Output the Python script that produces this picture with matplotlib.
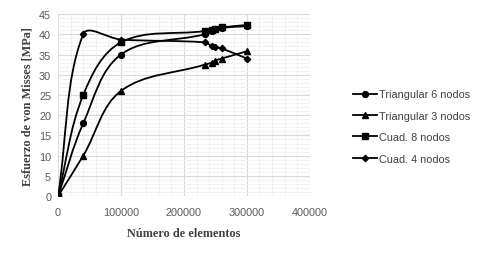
import numpy as np
import matplotlib.pyplot as plt
from matplotlib.path import Path
from matplotlib.patches import PathPatch
from matplotlib.lines import Line2D

elementos = [0, 40000, 100000, 233000, 245000, 250000, 260000, 300000]
tri6 = [0, 18, 35, 40.0, 40.8, 41.2, 41.6, 42.0]
tri3 = [0, 10, 26, 32.5, 33.0, 33.5, 34.0, 35.8]
cuad8 = [0, 25, 38, 40.8, 41.1, 41.4, 41.7, 42.3]
cuad4 = [0, 40, 38.7, 38.0, 37.0, 36.8, 36.5, 34.0]

series = [
    ("Triangular 6 nodos", tri6, "o", 4.2),
    ("Triangular 3 nodos", tri3, "^", 4.5),
    ("Cuad. 8 nodos", cuad8, "s", 5.0),
    ("Cuad. 4 nodos", cuad4, "D", 3.2),
]

# approx pixel size of one data unit, so the smoothing is done in screen space
SX = 63 / 100000.0
SY = 4.04


def smooth_path(x, y, t=0.36):
    # Excel-like smoothed line: bezier with tangents weighted by segment length
    p = np.column_stack([np.asarray(x, float) * SX, np.asarray(y, float) * SY])
    n = len(p)
    verts = [tuple(p[0])]
    codes = [Path.MOVETO]
    for i in range(n - 1):
        p0 = p[max(i - 1, 0)]
        p1 = p[i]
        p2 = p[i + 1]
        p3 = p[min(i + 2, n - 1)]
        l01 = np.hypot(*(p1 - p0))
        l12 = np.hypot(*(p2 - p1))
        l23 = np.hypot(*(p3 - p2))
        d1 = p2 - p0
        d2 = p3 - p1
        w1 = l12 / (l01 + l12) if l01 + l12 > 0 else 0
        w2 = l12 / (l12 + l23) if l12 + l23 > 0 else 0
        c1 = p1 + d1 * w1 * t
        c2 = p2 - d2 * w2 * t
        verts += [tuple(c1), tuple(c2), tuple(p2)]
        codes += [Path.CURVE4] * 3
    verts = [(vx / SX, vy / SY) for vx, vy in verts]
    return Path(verts, codes)


fig = plt.figure(figsize=(4.84, 2.55), dpi=100)
ax = fig.add_axes([0.12, 0.227, 0.52, 0.714])

handles = []
for name, vals, mk, ms in series:
    ax.add_patch(PathPatch(smooth_path(elementos, vals), fill=False,
                           edgecolor="black", lw=1.3, zorder=3))
    ax.plot(elementos, vals, ls="none", marker=mk, ms=ms, color="black", zorder=4)
    handles.append(Line2D([], [], color="black", lw=1.3, marker=mk, ms=ms))

ax.set_xlim(0, 400000)
ax.set_ylim(0, 45)
ax.set_xticks(np.arange(0, 400001, 100000))
ax.set_yticks(np.arange(0, 46, 5))
ax.set_xticks(np.arange(0, 400001, 20000), minor=True)
ax.set_yticks(np.arange(0, 46, 1), minor=True)
ax.grid(which="major", color="#d9d9d9", lw=0.8)
ax.grid(which="minor", color="#f0f0f0", lw=0.6)
ax.set_axisbelow(True)
for s in ax.spines.values():
    s.set_visible(False)
ax.tick_params(which="both", length=0, labelsize=7.8, labelcolor="#595959")
ax.tick_params(axis="x", pad=8)
ax.tick_params(axis="y", pad=5)
for lbl in ax.get_xticklabels() + ax.get_yticklabels():
    lbl.set_family("Liberation Sans")

ax.set_xlabel("Número de elementos", family="Liberation Serif", weight="bold",
              fontsize=8.8, color="#404040", labelpad=7)
ax.set_ylabel("Esfuerzo de von Misses [MPa]", family="Liberation Serif", weight="bold",
              fontsize=8.8, color="#404040", labelpad=4)

fig.legend(handles, [s[0] for s in series], loc="center left",
           bbox_to_anchor=(0.71, 0.50), frameon=False, handlelength=2.2,
           handletextpad=0.2, labelspacing=1.05,
           prop={"family": "Liberation Sans", "size": 7.8}, labelcolor="#404040")

fig.savefig("out.png", dpi=100)
